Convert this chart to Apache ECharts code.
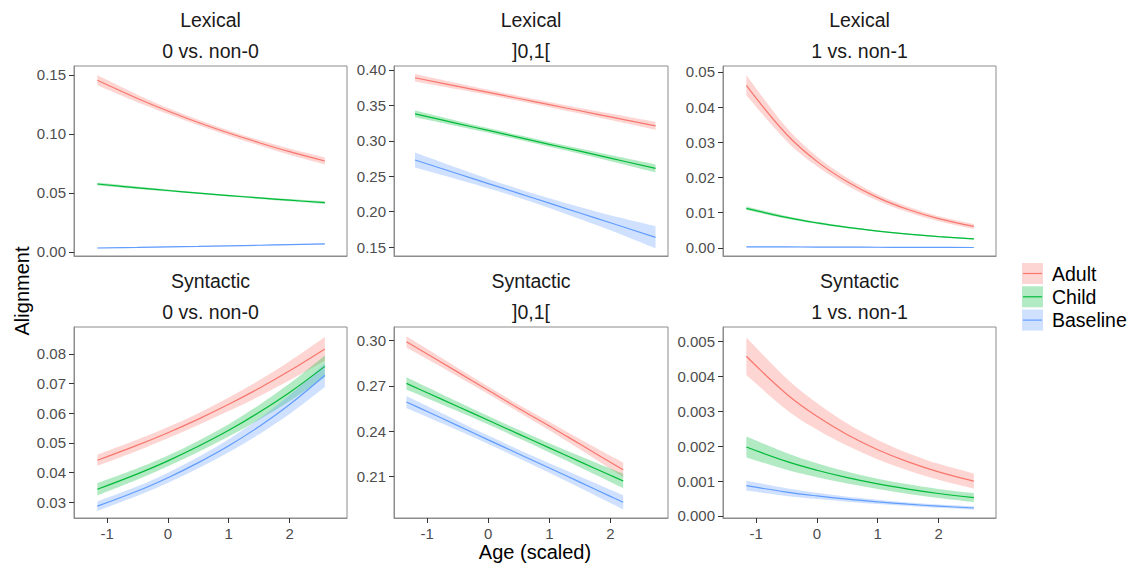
<!DOCTYPE html>
<html>
<head>
<meta charset="utf-8">
<script src="https://cdn.jsdelivr.net/npm/echarts@6/dist/echarts.min.js"></script>
<style>
  html, body { margin: 0; padding: 0; background: #fff; }
  #chart { width: 1133px; height: 564px; }
</style>
</head>
<body>
<div id="chart"></div>
<script>
// age grids (scaled age) used by the fitted curves
var ageOuter = [-1.16, -0.5, 0, 0.5, 1, 1.5, 2, 2.58];
var ageLexMid = [-1.2, -0.5, 0, 0.5, 1, 1.5, 2, 2.74];
var ageSynMid = [-1.34, -1, -0.5, 0, 0.5, 1, 1.5, 2, 2.21];
var ageTicks = [-1, 0, 1, 2];

var groups = ['Adult', 'Child', 'Baseline'];
var groupColors = ['#F8766D', '#00BA38', '#619CFF'];

// Lexical, 0 vs. non-0
var lex0Adult = [0.1455, 0.1301, 0.1195, 0.1097, 0.1008, 0.0926, 0.0850, 0.0771];
var lex0AdultCi = [0.0042, 0.0032, 0.0026, 0.0023, 0.0022, 0.0023, 0.0026, 0.0030];
var lex0Child = [0.0576, 0.0544, 0.0521, 0.0499, 0.0478, 0.0458, 0.0439, 0.0418];
var lex0ChildCi = [0.0012, 0.0010, 0.0009, 0.0008, 0.0008, 0.0009, 0.0010, 0.0012];
var lex0Base = [0.0034, 0.0039, 0.0043, 0.0047, 0.0052, 0.0057, 0.0062, 0.0068];
var lex0BaseCi = [0.0003, 0.0003, 0.0002, 0.0002, 0.0002, 0.0003, 0.0003, 0.0004];
var lex0Ticks = [0, 0.05, 0.10, 0.15];

// Lexical, ]0,1[
var lexMidAdult = [0.389, 0.3769, 0.3683, 0.3597, 0.3510, 0.3424, 0.3338, 0.321];
var lexMidAdultCi = [0.0052, 0.0042, 0.0037, 0.0035, 0.0036, 0.0040, 0.0046, 0.0056];
var lexMidChild = [0.338, 0.3243, 0.3146, 0.3048, 0.2950, 0.2853, 0.2755, 0.261];
var lexMidChildCi = [0.0047, 0.0038, 0.0034, 0.0032, 0.0033, 0.0037, 0.0043, 0.0056];
var lexMidBase = [0.2729, 0.2535, 0.2396, 0.2258, 0.2119, 0.1980, 0.1842, 0.1637];
var lexMidBaseCi = [0.0106, 0.0080, 0.0066, 0.0062, 0.0068, 0.0085, 0.0105, 0.0155];
var lexMidTicks = [0.15, 0.20, 0.25, 0.30, 0.35, 0.40];

// Lexical, 1 vs. non-1
var lex1Adult = [0.0462, 0.0323, 0.0246, 0.0188, 0.0143, 0.0109, 0.0083, 0.0061];
var lex1AdultCi = [0.0029, 0.0019, 0.0014, 0.0011, 0.0009, 0.0008, 0.0007, 0.0007];
var lex1Child = [0.01125, 0.00866, 0.0071, 0.00583, 0.00478, 0.00392, 0.00321, 0.00255];
var lex1ChildCi = [0.0005, 0.0004, 0.0003, 0.00025, 0.0002, 0.0002, 0.0002, 0.0002];
var lex1Base = [0.0003, 0.00027, 0.00024, 0.00021, 0.00018, 0.00016, 0.00014, 0.00012];
var lex1BaseCi = [0.0001, 0.0001, 0.0001, 0.0001, 0.0001, 0.0001, 0.0001, 0.0001];
var lex1Ticks = [0, 0.01, 0.02, 0.03, 0.04, 0.05];

// Syntactic, 0 vs. non-0
var syn0Adult = [0.0441, 0.0492, 0.0534, 0.0580, 0.0630, 0.0684, 0.0743, 0.0817];
var syn0AdultCi = [0.0019, 0.0019, 0.0019, 0.0020, 0.0023, 0.0027, 0.0032, 0.0040];
var syn0Child = [0.0343, 0.0395, 0.0439, 0.0488, 0.0542, 0.0603, 0.0670, 0.0758];
var syn0ChildCi = [0.0021, 0.0019, 0.0018, 0.0019, 0.0021, 0.0025, 0.0030, 0.0037];
var syn0Base = [0.0286, 0.0337, 0.0382, 0.0433, 0.0490, 0.0555, 0.0629, 0.0728];
var syn0BaseCi = [0.0016, 0.0016, 0.0017, 0.0019, 0.0022, 0.0026, 0.0032, 0.0040];
var syn0Ticks = [0.03, 0.04, 0.05, 0.06, 0.07, 0.08];

// Syntactic, ]0,1[
var synMidAdult = [0.299, 0.291, 0.279, 0.267, 0.255, 0.2435, 0.2315, 0.2195, 0.2145];
var synMidAdultCi = [0.0037, 0.0033, 0.0028, 0.0025, 0.0025, 0.0028, 0.0034, 0.0043, 0.0048];
var synMidChild = [0.2716, 0.2654, 0.2563, 0.2472, 0.2381, 0.2290, 0.2199, 0.2109, 0.2071];
var synMidChildCi = [0.0040, 0.0036, 0.0031, 0.0028, 0.0028, 0.0031, 0.0037, 0.0044, 0.0047];
var synMidBase = [0.2593, 0.2530, 0.2437, 0.2343, 0.2250, 0.2157, 0.2064, 0.1970, 0.1931];
var synMidBaseCi = [0.0040, 0.0036, 0.0031, 0.0028, 0.0028, 0.0031, 0.0037, 0.0044, 0.0047];
var synMidTicks = [0.21, 0.24, 0.27, 0.30];

// Syntactic, 1 vs. non-1
var syn1Adult = [0.00458, 0.00350, 0.002857, 0.002331, 0.001902, 0.001552, 0.001266, 0.0010];
var syn1AdultCi = [0.00054, 0.00045, 0.00038, 0.00032, 0.00028, 0.00025, 0.00023, 0.00022];
var syn1Child = [0.00198, 0.001567, 0.001313, 0.0011, 0.000921, 0.000772, 0.000646, 0.000526];
var syn1ChildCi = [0.0003, 0.00024, 0.0002, 0.00017, 0.00015, 0.00014, 0.00013, 0.00013];
var syn1Base = [0.00087, 0.000687, 0.000576, 0.000482, 0.000404, 0.000338, 0.000283, 0.00023];
var syn1BaseCi = [0.00014, 0.00011, 0.00009, 0.00007, 0.00006, 0.00005, 0.00005, 0.00005];
var syn1Ticks = [0, 0.001, 0.002, 0.003, 0.004, 0.005];

var FONT = 'Liberation Sans, Arial, Helvetica, sans-serif';
var xMin = -1.544, xMax = 2.944;

var panels = [
  { kind: 'Lexical', sub: '0 vs. non-0', left: 74, top: 66, w: 273, h: 190, age: ageOuter,
    fit: [lex0Adult, lex0Child, lex0Base], ci: [lex0AdultCi, lex0ChildCi, lex0BaseCi],
    yMin: -0.0034, yMax: 0.1576, ticks: lex0Ticks, dec: 2, bottom: false },
  { kind: 'Lexical', sub: ']0,1[', left: 394, top: 66, w: 274, h: 190, age: ageLexMid,
    fit: [lexMidAdult, lexMidChild, lexMidBase], ci: [lexMidAdultCi, lexMidChildCi, lexMidBaseCi],
    yMin: 0.1373, yMax: 0.4056, ticks: lexMidTicks, dec: 2, bottom: false },
  { kind: 'Lexical', sub: '1 vs. non-1', left: 723, top: 66, w: 273, h: 190, age: ageOuter,
    fit: [lex1Adult, lex1Child, lex1Base], ci: [lex1AdultCi, lex1ChildCi, lex1BaseCi],
    yMin: -0.0023, yMax: 0.0517, ticks: lex1Ticks, dec: 2, bottom: false },
  { kind: 'Syntactic', sub: '0 vs. non-0', left: 74, top: 327, w: 273, h: 191, age: ageOuter,
    fit: [syn0Adult, syn0Child, syn0Base], ci: [syn0AdultCi, syn0ChildCi, syn0BaseCi],
    yMin: 0.0246, yMax: 0.0891, ticks: syn0Ticks, dec: 2, bottom: true },
  { kind: 'Syntactic', sub: ']0,1[', left: 394, top: 327, w: 274, h: 191, age: ageSynMid,
    fit: [synMidAdult, synMidChild, synMidBase], ci: [synMidAdultCi, synMidChildCi, synMidBaseCi],
    yMin: 0.1827, yMax: 0.3088, ticks: synMidTicks, dec: 2, bottom: true },
  { kind: 'Syntactic', sub: '1 vs. non-1', left: 723, top: 327, w: 273, h: 191, age: ageOuter,
    fit: [syn1Adult, syn1Child, syn1Base], ci: [syn1AdultCi, syn1ChildCi, syn1BaseCi],
    yMin: -0.0000574, yMax: 0.00542, ticks: syn1Ticks, dec: 3, bottom: true }
];

// cubic bezier segments through pixel points (catmull-rom), for the ribbon outline
function curveThrough(pts) {
  var d = '';
  for (var i = 0; i < pts.length - 1; i++) {
    var p0 = pts[i - 1] || pts[i], p1 = pts[i], p2 = pts[i + 1], p3 = pts[i + 2] || p2;
    var c1 = [p1[0] + (p2[0] - p0[0]) / 6, p1[1] + (p2[1] - p0[1]) / 6];
    var c2 = [p2[0] - (p3[0] - p1[0]) / 6, p2[1] - (p3[1] - p1[1]) / 6];
    d += ' C' + c1[0] + ',' + c1[1] + ' ' + c2[0] + ',' + c2[1] + ' ' + p2[0] + ',' + p2[1];
  }
  return d;
}

function ribbonRender(color) {
  return function (params, api) {
    if (params.dataIndex !== 0) return null;
    var n = params.dataInsideLength || 0;
    var data = params.context.rows;
    var up = data.map(function (r) { return api.coord([r[0], r[2]]); });
    var lo = data.map(function (r) { return api.coord([r[0], r[1]]); }).reverse();
    var d = 'M' + up[0][0] + ',' + up[0][1] + curveThrough(up) +
      ' L' + lo[0][0] + ',' + lo[0][1] + curveThrough(lo) + ' Z';
    return { type: 'path', shape: { pathData: d }, style: { fill: color, opacity: 0.3 } };
  };
}

var grids = [], xAxes = [], yAxes = [], series = [], graphics = [];

panels.forEach(function (p, i) {
  grids.push({ left: p.left, top: p.top, width: p.w, height: p.h, show: true,
    borderColor: '#8c8c8c', borderWidth: 1, backgroundColor: '#fff' });

  xAxes.push({
    gridIndex: i, type: 'value', min: xMin, max: xMax,
    splitLine: { show: false },
    axisLine: { show: true, onZero: false, lineStyle: { color: '#8c8c8c' } },
    axisTick: { show: p.bottom, length: 5, customValues: ageTicks, lineStyle: { color: '#333' } },
    axisLabel: { show: p.bottom, customValues: ageTicks, margin: 8, color: '#4d4d4d',
      fontSize: 15, fontFamily: FONT, formatter: function (v) { return String(v); } }
  });

  yAxes.push({
    gridIndex: i, type: 'value', min: p.yMin, max: p.yMax,
    splitLine: { show: false },
    axisLine: { show: true, onZero: false, lineStyle: { color: '#8c8c8c' } },
    axisTick: { show: true, length: 5, customValues: p.ticks, lineStyle: { color: '#333' } },
    axisLabel: { customValues: p.ticks, margin: 8, color: '#4d4d4d', fontSize: 15, fontFamily: FONT,
      formatter: function (v) { return v.toFixed(p.dec); } }
  });

  // ribbons first (confidence bands), like geom_ribbon
  groups.forEach(function (g, k) {
    var fit = p.fit[k], ci = p.ci[k];
    var rows = p.age.map(function (x, j) { return [x, fit[j] - ci[j], fit[j] + ci[j]]; });
    series.push({
      type: 'custom', xAxisIndex: i, yAxisIndex: i, silent: true, z: 1,
      encode: { x: 0, y: [1, 2] },
      data: rows,
      renderItem: (function (rowsRef, color) {
        var fn = ribbonRender(color);
        return function (params, api) {
          params.context.rows = rowsRef;
          return fn(params, api);
        };
      })(rows, groupColors[k])
    });
  });
  // fitted lines on top
  groups.forEach(function (g, k) {
    var fit = p.fit[k];
    series.push({
      name: g, type: 'line', xAxisIndex: i, yAxisIndex: i, silent: true,
      symbol: 'none', smooth: 0.4, z: 3,
      lineStyle: { color: groupColors[k], width: 1.2 },
      data: p.age.map(function (x, j) { return [x, fit[j]]; })
    });
  });

  // facet strip labels
  var cx = p.left + p.w / 2;
  graphics.push({ type: 'text', x: cx, y: p.top - 46,
    style: { text: p.kind, fill: '#1a1a1a', font: '19.5px ' + FONT, textAlign: 'center', textVerticalAlign: 'middle' } });
  graphics.push({ type: 'text', x: cx, y: p.top - 15,
    style: { text: p.sub, fill: '#1a1a1a', font: '19.5px ' + FONT, textAlign: 'center', textVerticalAlign: 'middle' } });
});

// axis titles
graphics.push({ type: 'text', x: 22, y: 291, rotation: Math.PI / 2,
  style: { text: 'Alignment', fill: '#000', font: '20px ' + FONT, textAlign: 'center', textVerticalAlign: 'middle' } });
graphics.push({ type: 'text', x: 535, y: 552,
  style: { text: 'Age (scaled)', fill: '#000', font: '20px ' + FONT, textAlign: 'center', textVerticalAlign: 'middle' } });

// legend
groups.forEach(function (g, k) {
  var ky = 263 + k * 23.3;
  graphics.push({ type: 'rect', shape: { x: 1022, y: ky, width: 21, height: 21 },
    style: { fill: groupColors[k], opacity: 0.3 } });
  graphics.push({ type: 'line', shape: { x1: 1023, y1: ky + 10.5, x2: 1042, y2: ky + 10.5 },
    style: { stroke: groupColors[k], lineWidth: 1.2 } });
  graphics.push({ type: 'text', x: 1052, y: ky + 10.5,
    style: { text: g, fill: '#000', font: '19.5px ' + FONT, textAlign: 'left', textVerticalAlign: 'middle' } });
});

var myChart = echarts.init(document.getElementById('chart'), null, { renderer: 'svg' });
myChart.setOption({
  animation: false,
  backgroundColor: '#fff',
  grid: grids,
  xAxis: xAxes,
  yAxis: yAxes,
  series: series,
  graphic: graphics
});
</script>
</body>
</html>
